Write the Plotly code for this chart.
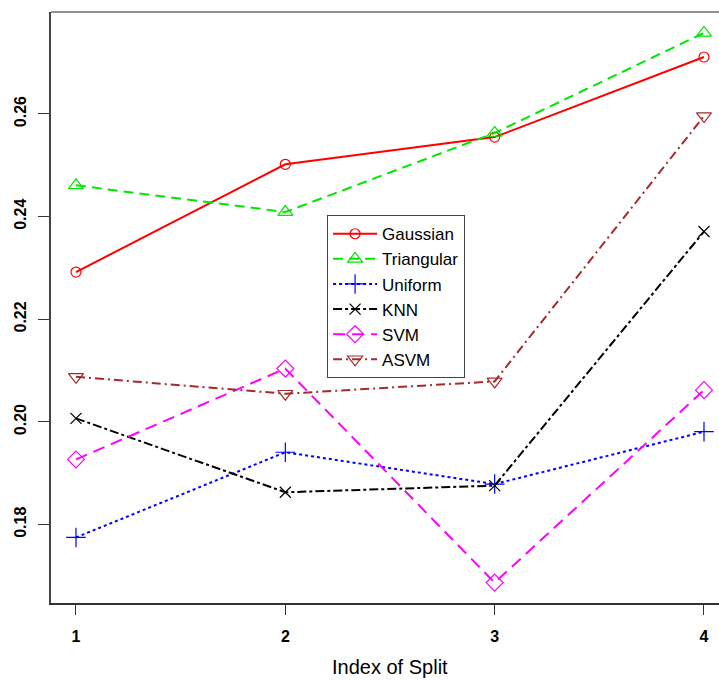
import plotly.graph_objects as go

splits = [1, 2, 3, 4]
gaussian = [0.2292, 0.2502, 0.2555, 0.2711]
triangular = [0.2461, 0.2409, 0.2563, 0.2758]
uniform = [0.1775, 0.1941, 0.1879, 0.1981]
knn = [0.2007, 0.1863, 0.1876, 0.2371]
svm = [0.1927, 0.2104, 0.1687, 0.2062]
asvm = [0.2088, 0.2055, 0.2079, 0.2596]

y_ticks = [0.18, 0.20, 0.22, 0.24, 0.26]
y_tick_text = ["0.18", "0.20", "0.22", "0.24", "0.26"]
x_ticks = [1, 2, 3, 4]
x_tick_text = ["1", "2", "3", "4"]

FONT = "Liberation Sans, Arial, Helvetica, sans-serif"

series = [
    ("Gaussian", gaussian, "#ff0000", "solid", "circle-open", 10),
    ("Triangular", triangular, "#00e600", "10px,6px", "triangle-up-open", 13),
    ("Uniform", uniform, "#0000ff", "dot", "cross-thin-open", 14),
    ("KNN", knn, "#000000", "dashdot", "x-thin-open", 11),
    ("SVM", svm, "#ff00ff", "12px,7px", "diamond-open", 13),
    ("ASVM", asvm, "#a52a2a", "9px,4px,2px,4px", "triangle-down-open", 13),
]

fig = go.Figure()
for name, vals, color, dash, sym, size in series:
    fig.add_trace(go.Scatter(
        x=splits, y=vals, name=name, mode="lines+markers",
        line=dict(color=color, width=2, dash=dash),
        marker=dict(symbol=sym, size=size, color=color,
                    line=dict(color=color, width=1.2)),
    ))

fig.update_layout(
    width=719, height=681,
    margin=dict(l=51, r=0, t=12, b=78),
    paper_bgcolor="white", plot_bgcolor="white",
    font=dict(family=FONT, color="black"),
    showlegend=True,
    legend=dict(
        x=0.413, y=0.6565, xanchor="left", yanchor="top",
        bgcolor="white", bordercolor="#444", borderwidth=1.2,
        font=dict(size=17, family=FONT, color="black"),
        itemwidth=44, tracegroupgap=0,
    ),
    xaxis=dict(
        range=[0.8806, 4.0717], tickvals=x_ticks, ticktext=x_tick_text,
        showgrid=False, zeroline=False,
        showline=True, linecolor="#333", linewidth=2,
        ticks="outside", ticklen=10, tickwidth=1, tickcolor="#333",
        tickfont=dict(size=16, family=FONT, weight="bold", color="black"),
        ticklabelstandoff=8,
    ),
    yaxis=dict(
        range=[0.16473, 0.27987], tickvals=y_ticks, ticktext=y_tick_text,
        showgrid=False, zeroline=False,
        showline=True, linecolor="#444", linewidth=1.5,
        ticks="outside", ticklen=11, tickwidth=1, tickcolor="#333",
        tickangle=-90,
        tickfont=dict(size=16, family=FONT, weight="bold", color="black"),
        ticklabelstandoff=6,
    ),
    shapes=[dict(type="line", xref="paper", yref="paper", x0=0, x1=1, y0=1, y1=1,
                 line=dict(color="#222", width=1))],
    annotations=[dict(text="Index of Split", xref="paper", yref="paper",
                      x=0.5075, y=-0.108, xanchor="center", yanchor="middle",
                      showarrow=False, font=dict(size=20, family=FONT, color="black"))],
)

fig.write_html(
    "out.html",
    config={"displayModeBar": False},
    post_script="document.body.style.margin='0';document.body.style.padding='0';document.body.style.overflow='hidden';",
)
